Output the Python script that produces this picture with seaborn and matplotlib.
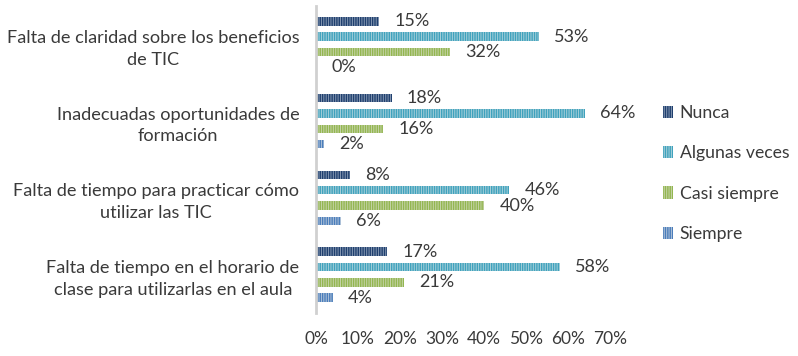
import matplotlib
matplotlib.use("Agg")
import matplotlib.pyplot as plt
import seaborn as sns
import pandas as pd
from matplotlib.ticker import PercentFormatter

categories = [
    "Falta de claridad sobre los beneficios\nde TIC",
    "Inadecuadas oportunidades de\nformación",
    "Falta de tiempo para practicar cómo\nutilizar las TIC",
    "Falta de tiempo en el horario de\nclase para utilizarlas en el aula",
]
series = ["Nunca", "Algunas veces", "Casi siempre", "Siempre"]
nunca = [15, 18, 8, 17]
algunas = [53, 64, 46, 58]
casi = [32, 16, 40, 21]
siempre = [0, 2, 6, 4]
xticks = [0, 10, 20, 30, 40, 50, 60, 70]

face_colors = ["#7d97bb", "#9fd5e2", "#c8dba2", "#a9c2e0"]
hatch_colors = ["#1f3f6e", "#3fa2bd", "#93b650", "#4a7dbb"]
text_color = "#3a3a3a"

rows = []
for s, vals in zip(series, [nunca, algunas, casi, siempre]):
    for c, v in zip(categories, vals):
        rows.append({"categoria": c, "serie": s, "valor": v})
df = pd.DataFrame(rows)

sns.set_theme(style="white")
plt.rcParams["font.family"] = ["Lato", "DejaVu Sans"]
plt.rcParams["hatch.linewidth"] = 1.0

fig = plt.figure(figsize=(7.98, 3.56), dpi=100)
ax = fig.add_axes([316 / 798, 1 - 313 / 356, (610 - 316) / 798, (313 - 6) / 356])

sns.barplot(data=df, y="categoria", x="valor", hue="serie", order=categories,
            hue_order=series, palette=face_colors, orient="h", width=0.8,
            gap=0.45, ax=ax, legend=True)

for cont, hc in zip(ax.containers, hatch_colors):
    for bar in cont:
        bar.set_hatch("|" * 7)
        bar.set_edgecolor(hc)
        bar.set_linewidth(0)
    ax.bar_label(cont, labels=[f"{int(round(b.get_width()))}%" for b in cont],
                 padding=11, color=text_color, fontsize=13)

ax.set_xlim(0, 70)
ax.set_xticks(xticks)
ax.xaxis.set_major_formatter(PercentFormatter(decimals=0))
ax.set_xlabel("")
ax.set_ylabel("")
for sp in ["top", "right", "bottom"]:
    ax.spines[sp].set_visible(False)
ax.spines["left"].set_color("#d0d0d0")
ax.spines["left"].set_linewidth(2)
ax.tick_params(axis="x", length=0, pad=13, labelsize=12.5, labelcolor=text_color)
ax.tick_params(axis="y", length=0, pad=12, labelsize=13.1, labelcolor=text_color)
for lab in ax.get_yticklabels():
    lab.set_multialignment("center")
    lab.set_linespacing(1.45)

handles, labels = ax.get_legend_handles_labels()
ax.legend_.remove()
for h, hc in zip(handles, hatch_colors):
    h.set_hatch("|" * 7)
    h.set_edgecolor(hc)
    h.set_linewidth(0)
fig.legend(handles, labels, loc="center left", bbox_to_anchor=(647 / 798, 1 - 173.5 / 356),
           frameon=False, fontsize=12.7, labelcolor=text_color, handlelength=0.55,
           handleheight=0.7, handletextpad=0.4, labelspacing=1.38)

fig.savefig("out.png", dpi=100)
